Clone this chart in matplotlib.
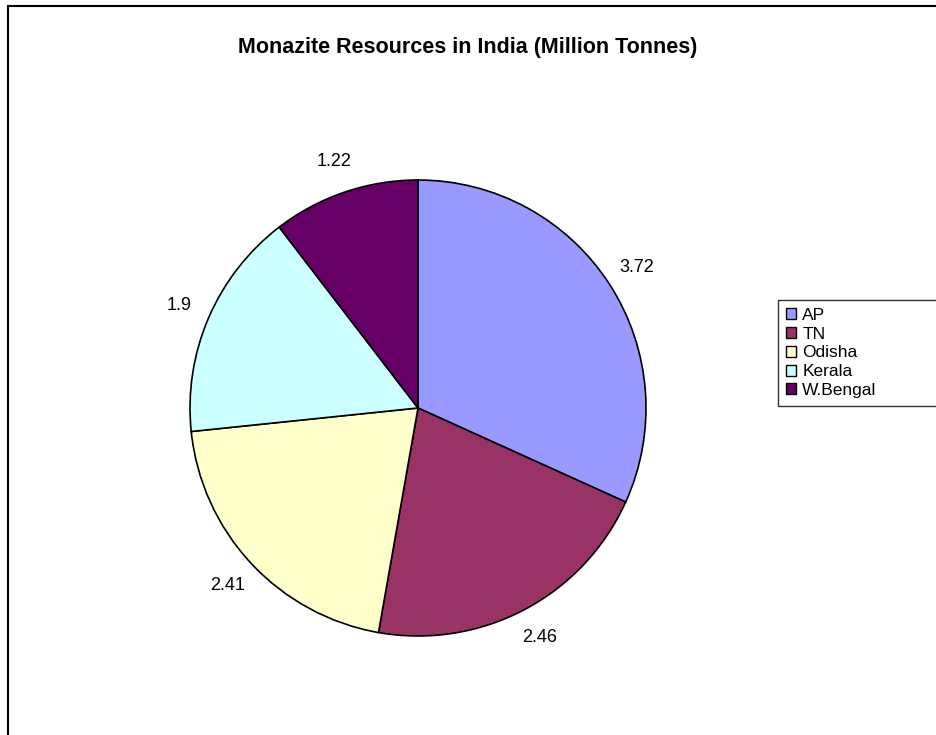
import matplotlib
matplotlib.use("Agg")
import matplotlib.pyplot as plt
from matplotlib.patches import Rectangle

plt.rcParams['font.family'] = ['Liberation Sans', 'DejaVu Sans']

states = ["AP", "TN", "Odisha", "Kerala", "W.Bengal"]
resources = [3.72, 2.46, 2.41, 1.9, 1.22]
colors = ["#9999FF", "#993366", "#FFFFCC", "#CCFFFF", "#660066"]
title = "Monazite Resources in India (Million Tonnes)"

W, H = 937, 735
fig = plt.figure(figsize=(W / 100, H / 100), dpi=100)

# chart-area border (runs off the right and bottom edges)
fig.patches.append(Rectangle((8 / W, -0.05), 1.2, 1 - 6 / H + 0.05,
                             transform=fig.transFigure, fill=False,
                             edgecolor="black", linewidth=1.5))

cx, cy, r = 418, 408, 228
ax = fig.add_axes([(cx - r) / W, (H - cy - r) / H, 2 * r / W, 2 * r / H])
wedges, texts = ax.pie(
    resources, colors=colors, startangle=90, counterclock=False,
    radius=1, labels=[f"{v:g}" for v in resources], labeldistance=1.14,
    wedgeprops=dict(edgecolor="black", linewidth=1.2),
    textprops=dict(fontsize=13, color="black"))
for t in texts:
    t.set_horizontalalignment("center")
    t.set_verticalalignment("center")
ax.set_xlim(-1, 1)
ax.set_ylim(-1, 1)
ax.set_aspect("equal")
ax.axis("off")

fig.text(468 / W, 1 - 48 / H, title, ha="center", va="center",
         fontsize=15.5, fontweight="bold")

# legend box stretches to the right edge of the figure
leg = fig.legend(wedges, states, loc="upper left",
                 bbox_to_anchor=(778 / W, 1 - 300 / H, (945 - 778) / W, 0),
                 mode="expand",
                 fontsize=12.5, frameon=True, fancybox=False,
                 handlelength=0.6, handleheight=0.6, handletextpad=0.35,
                 labelspacing=0.22, borderpad=0.45, borderaxespad=0)
leg.get_frame().set_edgecolor("black")
leg.get_frame().set_linewidth(1.0)
for h in leg.legend_handles:
    h.set_edgecolor("black")
    h.set_linewidth(1.0)

fig.savefig("out.png", dpi=100)
